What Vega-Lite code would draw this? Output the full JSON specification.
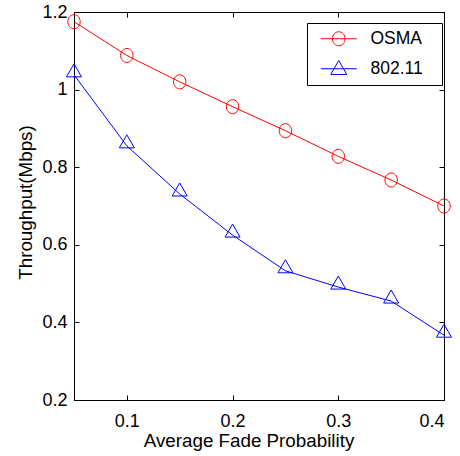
{
  "$schema": "https://vega.github.io/schema/vega-lite/v6.json",
  "width": 370,
  "height": 388,
  "autosize": "none",
  "padding": {"left": 74, "top": 12, "right": 16, "bottom": 56},
  "background": "white",
  "config": {
    "view": {"stroke": "black", "strokeWidth": 1},
    "font": "Liberation Sans",
    "axis": {
      "grid": false,
      "domainColor": "black",
      "domainWidth": 1,
      "tickColor": "black",
      "tickSize": -5,
      "tickWidth": 1,
      "labelFont": "Liberation Sans",
      "labelFontSize": 18,
      "labelColor": "black",
      "titleFont": "Liberation Sans",
      "titleFontSize": 18.8,
      "titleFontWeight": "normal",
      "titleColor": "black"
    }
  },
  "data": {
    "values": [
      {"p": 0.05, "thr": 1.175, "series": "OSMA"},
      {"p": 0.10, "thr": 1.088, "series": "OSMA"},
      {"p": 0.15, "thr": 1.020, "series": "OSMA"},
      {"p": 0.20, "thr": 0.956, "series": "OSMA"},
      {"p": 0.25, "thr": 0.894, "series": "OSMA"},
      {"p": 0.30, "thr": 0.828, "series": "OSMA"},
      {"p": 0.35, "thr": 0.767, "series": "OSMA"},
      {"p": 0.40, "thr": 0.700, "series": "OSMA"},
      {"p": 0.05, "thr": 1.038, "series": "802.11"},
      {"p": 0.10, "thr": 0.855, "series": "802.11"},
      {"p": 0.15, "thr": 0.731, "series": "802.11"},
      {"p": 0.20, "thr": 0.625, "series": "802.11"},
      {"p": 0.25, "thr": 0.533, "series": "802.11"},
      {"p": 0.30, "thr": 0.491, "series": "802.11"},
      {"p": 0.35, "thr": 0.455, "series": "802.11"},
      {"p": 0.40, "thr": 0.367, "series": "802.11"}
    ]
  },
  "layer": [
    {
      "mark": {"type": "line", "strokeWidth": 1},
      "encoding": {
        "x": {
          "field": "p", "type": "quantitative",
          "scale": {"domain": [0.05, 0.4], "nice": false, "zero": false},
          "axis": {
            "orient": "bottom",
            "values": [0.1, 0.2, 0.3, 0.4],
            "format": "~g",
            "labelPadding": 17,
            "title": "Average Fade Probability",
            "titleX": 174.5,
            "titleY": 46,
            "titleBaseline": "alphabetic"
          }
        },
        "y": {
          "field": "thr", "type": "quantitative",
          "scale": {"domain": [0.2, 1.2], "nice": false, "zero": false},
          "axis": {
            "orient": "left",
            "values": [0.2, 0.4, 0.6, 0.8, 1, 1.2],
            "format": "~g",
            "labelPadding": 12,
            "title": "Throughput(Mbps)",
            "titleX": -49,
            "titleY": 190,
            "titleBaseline": "middle"
          }
        },
        "color": {
          "field": "series", "type": "nominal",
          "scale": {"domain": ["OSMA", "802.11"], "range": ["#ff0000", "#0000ff"]},
          "legend": {
            "title": null,
            "orient": "none",
            "legendX": 233,
            "legendY": 11,
            "strokeColor": "black",
            "fillColor": "white",
            "padding": 7,
            "labelOffset": 39,
            "labelFont": "Liberation Sans",
            "labelFontSize": 17.5,
            "labelColor": "black",
            "symbolSize": 100,
            "symbolStrokeWidth": 1,
            "rowPadding": 10,
            "encode": {
              "symbols": {
                "update": {
                  "shape": {"signal": "datum.value === 'OSMA' ? 'M-0.4,0H6.8M4.46,0A1.26,1.4,0,1,1,1.94,0A1.26,1.4,0,1,1,4.46,0M22,0' : 'M-0.4,0H6.8M3.2,-1.66L1.6,1.14L4.8,1.14ZM22,0'"},
                  "fill": {"value": "transparent"},
                  "stroke": {"scale": "color", "field": "value"},
                  "strokeWidth": {"value": 1},
                  "opacity": {"value": 1}
                }
              }
            }
          }
        }
      }
    },
    {
      "transform": [{"filter": "datum.series === 'OSMA'"}],
      "mark": {"type": "point", "filled": false, "strokeWidth": 1, "opacity": 1, "size": 196,
               "shape": "M0.886,0A0.886,1,0,1,1,-0.886,0A0.886,1,0,1,1,0.886,0Z"},
      "encoding": {
        "x": {"field": "p", "type": "quantitative", "axis": null},
        "y": {"field": "thr", "type": "quantitative", "axis": null},
        "color": {"field": "series", "type": "nominal"}
      }
    },
    {
      "transform": [{"filter": "datum.series === '802.11'"}],
      "mark": {"type": "point", "filled": false, "strokeWidth": 1, "opacity": 1, "size": 256,
               "shape": "M0,-1.375L-0.94,0.25L0.94,0.25Z"},
      "encoding": {
        "x": {"field": "p", "type": "quantitative", "axis": null},
        "y": {"field": "thr", "type": "quantitative", "axis": null},
        "color": {"field": "series", "type": "nominal"}
      }
    },
    {
      "mark": {"type": "point", "opacity": 0},
      "encoding": {
        "x": {
          "field": "p", "type": "quantitative",
          "axis": {"orient": "top", "values": [0.1, 0.2, 0.3, 0.4], "labels": false, "title": null}
        },
        "y": {
          "field": "thr", "type": "quantitative",
          "axis": {"orient": "right", "values": [0.2, 0.4, 0.6, 0.8, 1, 1.2], "labels": false, "title": null}
        }
      }
    }
  ],
  "resolve": {"axis": {"x": "independent", "y": "independent"}}
}
